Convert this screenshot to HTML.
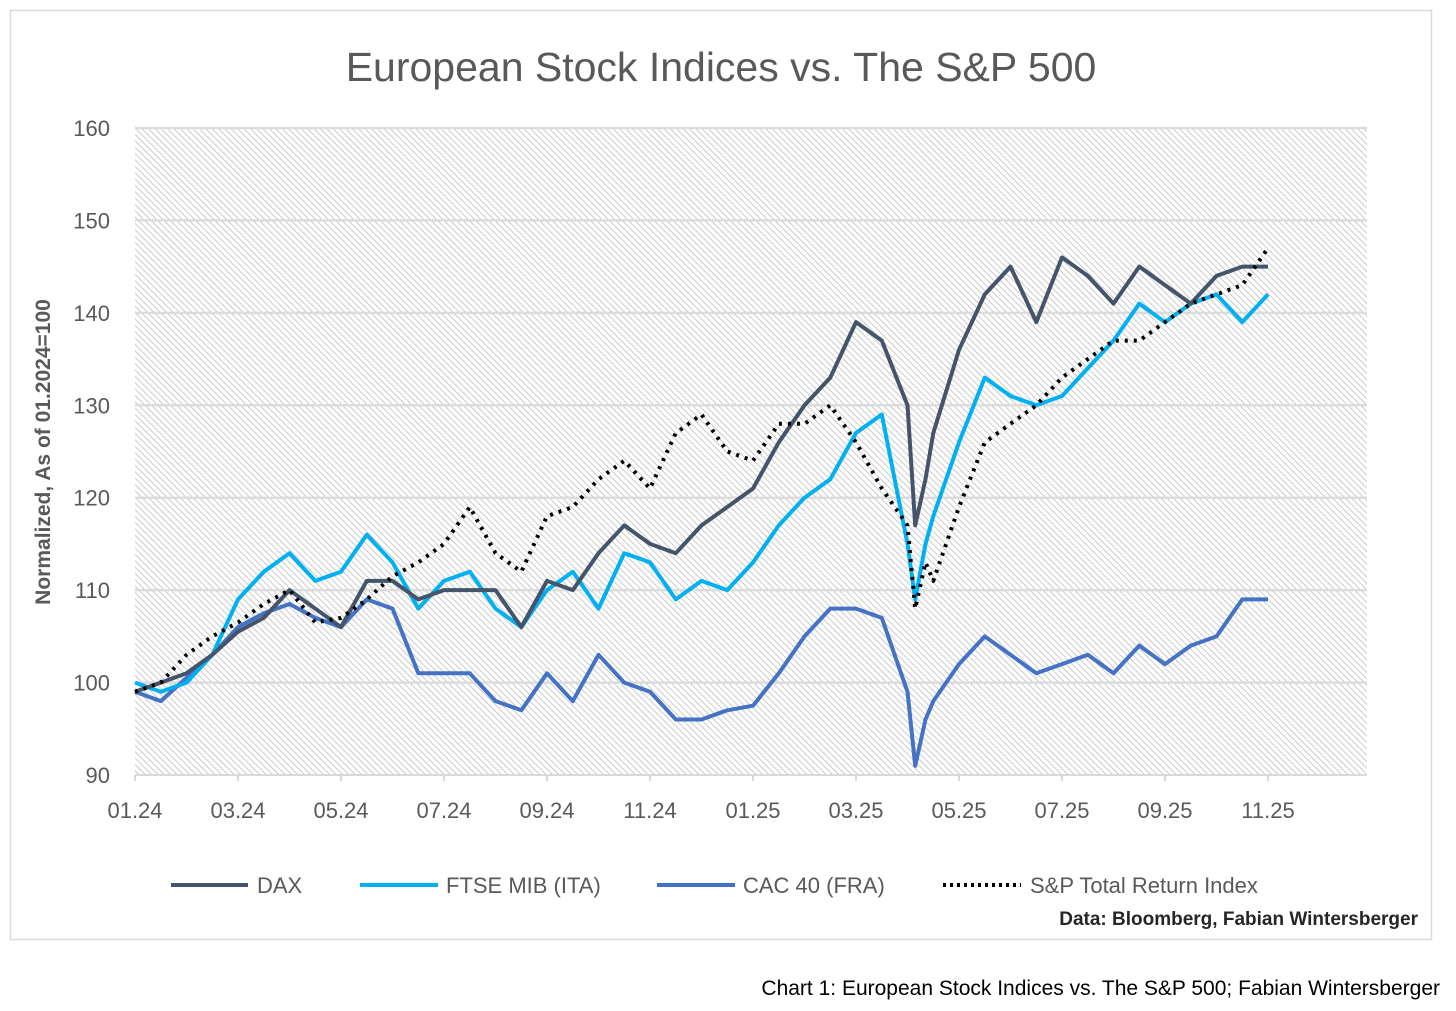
<!DOCTYPE html>
<html><head><meta charset="utf-8"><style>
body{margin:0;background:#fff;width:1456px;height:1006px;overflow:hidden;font-family:"Liberation Sans",sans-serif}
</style></head><body>
<svg id="chart" width="1456" height="1006" xmlns="http://www.w3.org/2000/svg">
<defs>
<pattern id="hatch" width="4.5" height="4.5" patternUnits="userSpaceOnUse" patternTransform="rotate(-45)">
<rect width="4.5" height="4.5" fill="#ffffff"/>
<line x1="0" y1="0" x2="0" y2="4.5" stroke="#c4c4c4" stroke-width="1.8"/>
</pattern>
</defs>
<rect x="10.5" y="10.5" width="1421" height="929" fill="#fff" stroke="#d9d9d9" stroke-width="1.5"/>
<text x="721" y="81" text-anchor="middle" font-size="41" fill="#595959">European Stock Indices vs. The S&amp;P 500</text>
<rect x="135" y="128" width="1232" height="647" fill="url(#hatch)"/>
<g id="grid"></g>
<g id="series"></g>
<g id="axes"></g>
<text transform="translate(50,452) rotate(-90)" text-anchor="middle" font-size="21" font-weight="bold" fill="#595959">Normalized, As of 01.2024=100</text>
<g font-size="22" fill="#595959">
<line x1="171" y1="885" x2="248" y2="885" stroke="#44546A" stroke-width="4"/>
<text x="257" y="893">DAX</text>
<line x1="360" y1="885" x2="438" y2="885" stroke="#00B0F0" stroke-width="4"/>
<text x="446" y="893">FTSE MIB (ITA)</text>
<line x1="657" y1="885" x2="735" y2="885" stroke="#4472C4" stroke-width="4"/>
<text x="743" y="893">CAC 40 (FRA)</text>
<line x1="943" y1="885" x2="1021" y2="885" stroke="#000" stroke-width="4" stroke-dasharray="3 4"/>
<text x="1030" y="893">S&amp;P Total Return Index</text>
</g>
<text x="1418" y="925" text-anchor="end" font-size="19" font-weight="600" fill="#262626">Data: Bloomberg, Fabian Wintersberger</text>
<text x="1440" y="995" text-anchor="end" font-size="21" fill="#000">Chart 1: European Stock Indices vs. The S&amp;P 500; Fabian Wintersberger</text>
</svg>
<script>
const months = [0,0.5,1,1.5,2,2.5,3,3.5,4,4.5,5,5.5,6,6.5,7,7.5,8,8.5,9,9.5,10,10.5,11,11.5,12,12.5,13,13.5,14,14.5,15,15.15,15.35,15.5,16,16.5,17,17.5,18,18.5,19,19.5,20,20.5,21,21.5,22];
const dax = [99,100,101,103,105.5,107,110,108,106,111,111,109,110,110,110,106,111,110,114,117,115,114,117,119,121,126,130,133,139,137,130,117,122,127,136,142,145,139,146,144,141,145,143,141,144,145,145];
const ftse = [100,99,100,103,109,112,114,111,112,116,113,108,111,112,108,106,110,112,108,114,113,109,111,110,113,117,120,122,127,129,115,109,115,118,126,133,131,130,131,134,137,141,139,141,142,139,142];
const cac = [99,98,100.5,103,106,107.5,108.5,107,106,109,108,101,101,101,98,97,101,98,103,100,99,96,96,97,97.5,101,105,108,108,107,99,91,96,98,102,105,103,101,102,103,101,104,102,104,105,109,109];
const sp = [99,100,103,105,106.5,108.5,110,106.5,107,109,111.5,113,115,119,114,112,118,119,122,124,121,127,129,125,124,128,128,130,126,121,117,108,113,111,119,126,128,130,133,135,137,137,139,141,142,143,147];
const yTicks = [90,100,110,120,130,140,150,160];
const xTickLabels = ["01.24","03.24","05.24","07.24","09.24","11.24","01.25","03.25","05.25","07.25","09.25","11.25"];
const xTickMonths = [0,2,4,6,8,10,12,14,16,18,20,22];

const NS = "http://www.w3.org/2000/svg";
const X0 = 135, PX_PER_MONTH = 51.5, Y0 = 775, PX_PER_UNIT = 9.243;
function xScale(m){ return X0 + m * PX_PER_MONTH; }
function yScale(v){ return Y0 - (v - 90) * PX_PER_UNIT; }
function mk(tag, attrs, parent){ const e = document.createElementNS(NS, tag); for (const k in attrs) e.setAttribute(k, attrs[k]); parent.appendChild(e); return e; }

const grid = document.getElementById('grid');
const axes = document.getElementById('axes');
yTicks.forEach(v => {
  if (v > 90) {
    const gl = mk('line', {x1:135, x2:1367, y1:yScale(v), y2:yScale(v), stroke:'#dcdcdc', 'stroke-width':2.5}, grid);
    
    
  }
  const t = mk('text', {x:110, y:yScale(v)+8, 'text-anchor':'end', 'font-size':22, fill:'#595959'}, axes);
  t.textContent = v;
  
  
});
const ax = mk('line', {x1:135, x2:1367, y1:775, y2:775, stroke:'#d9d9d9', 'stroke-width':2}, axes);


xTickMonths.forEach((m, i) => {
  const tk = mk('line', {x1:xScale(m), x2:xScale(m), y1:775, y2:781, stroke:'#d9d9d9', 'stroke-width':2}, axes);
  
  
  const t = mk('text', {x:xScale(m), y:818, 'text-anchor':'middle', 'font-size':22, fill:'#595959'}, axes);
  t.textContent = xTickLabels[i];
  
  
});

const series = document.getElementById('series');
function draw(vals, color, name, dash){
  const d = vals.map((v,i) => (i ? 'L' : 'M') + xScale(months[i]).toFixed(1) + ',' + yScale(v).toFixed(1)).join(' ');
  const attrs = {d:d, fill:'none', stroke:color, 'stroke-width': dash ? 4 : 4, 'stroke-linejoin':'round'};
  if (dash) attrs['stroke-dasharray'] = '3 6';
  const p = mk('path', attrs, series);
  
  
}
draw(cac, '#4472C4', 'series-cac40');
draw(ftse, '#00B0F0', 'series-ftse-mib');
draw(dax, '#44546A', 'series-dax');
draw(sp, '#000000', 'series-sp-total-return', true);
</script>
</body></html>
